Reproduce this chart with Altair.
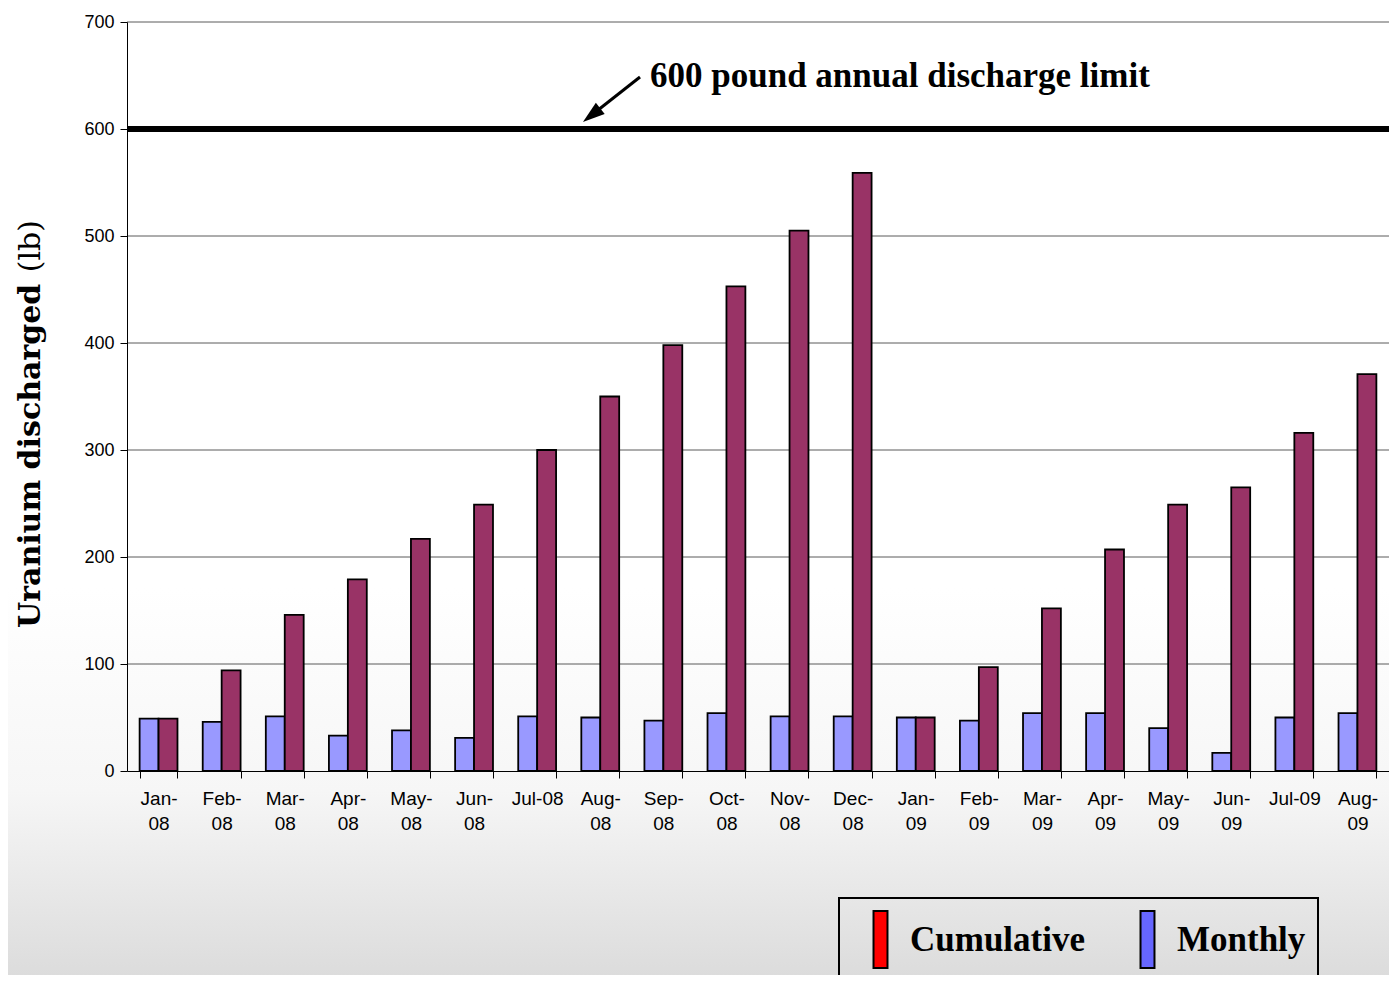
import altair as alt
import pandas as pd

months = ["Jan-08", "Feb-08", "Mar-08", "Apr-08", "May-08", "Jun-08", "Jul-08",
          "Aug-08", "Sep-08", "Oct-08", "Nov-08", "Dec-08", "Jan-09", "Feb-09",
          "Mar-09", "Apr-09", "May-09", "Jun-09", "Jul-09", "Aug-09"]
monthly = [49, 46, 51, 33, 38, 31, 51, 50, 47, 54, 51, 51, 50, 47, 54, 54, 40, 17, 50, 54]
cumulative = [49, 94, 146, 179, 217, 249, 300, 350, 398, 453, 505, 559, 50, 97, 152, 207, 249, 265, 316, 371]
y_ticks = [0, 100, 200, 300, 400, 500, 600, 700]
limit_value = [600]
series_names = ["Monthly", "Cumulative"]
bar_colors = ["#9999FF", "#993366"]
legend_names = ["Cumulative", "Monthly"]
legend_colors = ["#FF0000", "#6666FF"]
annotation = "600 pound annual discharge limit"
y_title_bold = "Uranium discharged"
y_title_unit = "(lb)"

W, H = 1262, 749
PAD = {"left": 119, "top": 14, "right": 0, "bottom": 204}

rows = []
for m, mo, cu in zip(months, monthly, cumulative):
    rows.append({"month": m, "series": "Monthly", "value": mo})
    rows.append({"month": m, "series": "Cumulative", "value": cu})
df = pd.DataFrame(rows)
one = pd.DataFrame({"k": [0]})

yscale = alt.Scale(domain=[0, 700], nice=False)
yaxis = alt.Axis(values=y_ticks, grid=False, title=None, zindex=1,
                 domainColor="black", tickColor="black", tickSize=7,
                 labelFont="Liberation Sans", labelFontSize=18, labelColor="black",
                 labelPadding=6)

label_expr = ("datum.label == 'Jul-08' || datum.label == 'Jul-09' ? datum.label : "
              "[slice(datum.label, 0, 4), slice(datum.label, 4)]")
xenc = alt.X("month:N", sort=months,
             scale=alt.Scale(paddingInner=0.4, paddingOuter=0.2),
             axis=alt.Axis(title=None, labelAngle=0, tickBand="extent", zindex=1,
                           domainColor="black", tickColor="black", tickSize=7,
                           labelFont="Liberation Sans", labelFontSize=19,
                           labelColor="black", labelPadding=11, labelLineHeight=25,
                           labelExpr=label_expr))

legend_shape = "M-0.245,-1H0.245V1H-0.245Z"

legend_layer = alt.Chart(df).mark_point(
    shape=legend_shape, filled=True, size=3249, stroke="black", strokeWidth=2, opacity=1
).encode(
    x=xenc,
    y=alt.Y("value:Q", scale=yscale, axis=yaxis),
    fill=alt.Fill("series:N",
                  scale=alt.Scale(domain=legend_names, range=legend_colors),
                  legend=alt.Legend(orient="none", legendX=712, legendY=876,
                                    direction="horizontal", title=None,
                                    labelFont="Liberation Serif", labelFontWeight="bold",
                                    labelFontSize=35, labelColor="black", labelLimit=600,
                                    symbolType=legend_shape, symbolSize=3249,
                                    symbolStrokeColor="black", symbolStrokeWidth=2,
                                    symbolOpacity=1, padding=12, strokeColor="black",
                                    columnPadding=33, labelOffset=0)),
)

background = alt.Chart(one).mark_rect(
    fill=alt.Gradient(gradient="linear",
                      stops=[alt.GradientStop(color="#ffffff", offset=0),
                             alt.GradientStop(color="#ffffff", offset=0.6),
                             alt.GradientStop(color="#f6f6f6", offset=0.81),
                             alt.GradientStop(color="#dcdcdc", offset=1)],
                      x1=0, x2=0, y1=0, y2=1)
).encode(
    x=alt.value(-PAD["left"]), x2=alt.value(W),
    y=alt.value(-PAD["top"]), y2=alt.value(H + PAD["bottom"]),
)

grid = alt.Chart(pd.DataFrame({"tick": y_ticks[1:]})).mark_rule(
    color="#5a5a5a", strokeWidth=1
).encode(y=alt.Y("tick:Q", scale=yscale, axis=yaxis))

bars = alt.Chart(df).mark_bar(stroke="black", strokeWidth=1.8).encode(
    x=xenc,
    xOffset=alt.XOffset("series:N", sort=series_names),
    y=alt.Y("value:Q", scale=yscale, axis=yaxis),
    color=alt.Color("series:N", scale=alt.Scale(domain=series_names, range=bar_colors),
                    legend=None),
)

limit_rule = alt.Chart(pd.DataFrame({"limit": limit_value})).mark_rule(
    color="black", strokeWidth=6
).encode(y=alt.Y("limit:Q", scale=yscale, axis=yaxis))

arrow_line = alt.Chart(one).mark_rule(color="black", strokeWidth=3).encode(
    x=alt.value(513), y=alt.value(55), x2=alt.value(466), y2=alt.value(92)
)
arrow_head = alt.Chart(one).mark_point(
    shape="M0,-1L0.65,1L-0.65,1Z", filled=True, size=484, color="black",
    opacity=1, angle=232
).encode(x=alt.value(464.6), y=alt.value(93.2))

annot = alt.Chart(pd.DataFrame({"t": [annotation]})).mark_text(
    font="Liberation Serif", fontWeight="bold", fontSize=35, align="left",
    baseline="alphabetic", color="black"
).encode(text="t:N", x=alt.value(523), y=alt.value(65))

ytitle1 = alt.Chart(pd.DataFrame({"t": [y_title_bold]})).mark_text(
    font="DejaVu Serif", fontWeight="bold", fontSize=30, angle=270, align="left",
    baseline="alphabetic", color="black"
).encode(text="t:N", x=alt.value(-87), y=alt.value(606))

ytitle2 = alt.Chart(pd.DataFrame({"t": [y_title_unit]})).mark_text(
    font="DejaVu Serif", fontWeight="normal", fontSize=30, angle=270, align="right",
    baseline="alphabetic", color="black"
).encode(text="t:N", x=alt.value(-87), y=alt.value(198))

chart = alt.layer(
    legend_layer, background, grid, bars, limit_rule, arrow_line, arrow_head,
    annot, ytitle1, ytitle2
).properties(
    width=W, height=H,
    autosize=alt.AutoSizeParams(type="none"),
    padding=PAD,
).resolve_scale(
    color="independent", fill="independent"
).configure_view(
    stroke=None
).configure_legend(
    strokeWidth=2
)

chart.save("out.html", embed_options={"renderer": "svg", "actions": False})
